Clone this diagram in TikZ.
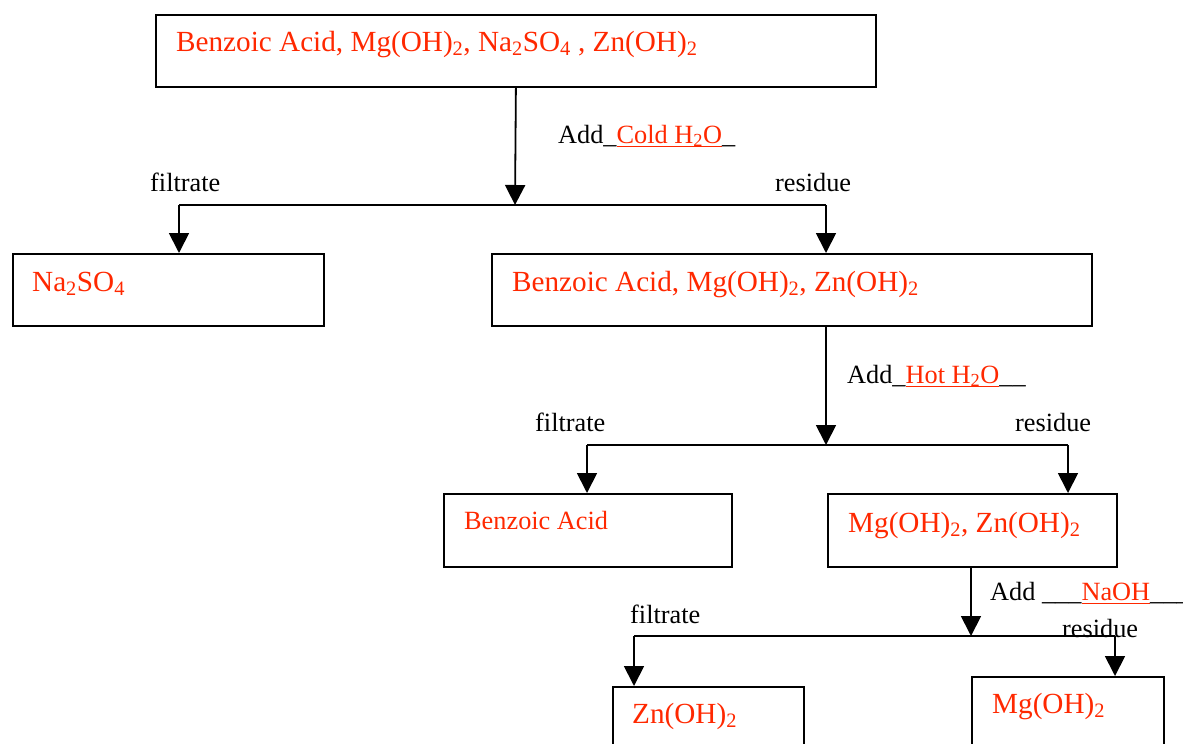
\documentclass[tikz,border=0pt]{standalone}
\usepackage{fontspec}
\setmainfont{Liberation Serif}
\usetikzlibrary{arrows.meta}
\definecolor{chem}{RGB}{255,40,0}
\newcommand\fs{\fontsize{26.3}{30}\selectfont}
\newcommand\fb{\fontsize{29.2}{33}\selectfont}
\newcommand\sub[1]{\textsubscript{#1}}
\newsavebox\ulbox
\newcommand\ulc[1]{\sbox\ulbox{#1}\rlap{\rule[-4.2pt]{\wd\ulbox}{1.3pt}}\usebox\ulbox}
\begin{document}
\begin{tikzpicture}[x=1pt,y=-1pt,
  box/.style={draw,line width=1.8pt,anchor=north west,inner sep=0pt},
  lbl/.style={anchor=base west,inner sep=0pt,font=\fs},
  chemtxt/.style={lbl,text=chem,font=\fb},
  chemsmall/.style={lbl,text=chem},
  flow/.style={line width=1.8pt,-{Triangle[width=20pt,length=20pt]}},
  bar/.style={line width=1.8pt}]
\useasboundingbox (0,0) rectangle (1183,744);
\clip (0,0) rectangle (1183,744);

% boxes
\node[box,minimum width=720pt,minimum height=72pt] (b1) at (155,14) {};
\node[box,minimum width=311pt,minimum height=72pt] (na) at (12,253) {};
\node[box,minimum width=600pt,minimum height=72pt] (b2) at (491,253) {};
\node[box,minimum width=288pt,minimum height=73pt] (ba) at (443,493) {};
\node[box,minimum width=289pt,minimum height=73pt] (b4) at (827,493) {};
\node[box,minimum width=191pt,minimum height=90pt] (zn) at (612,686) {};
\node[box,minimum width=192pt,minimum height=100pt] (mg) at (971,676) {};

% box texts
\node[chemtxt] (t1) at (176,51) {Benzoic Acid, Mg(OH)\sub{2}, Na\sub{2}SO\sub{4} , Zn(OH)\sub{2}};
\node[chemtxt] (tna) at (32,291) {Na\sub{2}SO\sub{4}};
\node[chemtxt] (t2) at (512,291) {Benzoic Acid, Mg(OH)\sub{2}, Zn(OH)\sub{2}};
\node[chemsmall] (tba) at (464,529) {Benzoic Acid};
\node[chemtxt] (t4) at (848,532) {Mg(OH)\sub{2}, Zn(OH)\sub{2}};
\node[chemtxt] (tzn) at (632,723) {Zn(OH)\sub{2}};
\node[chemtxt] (tmg) at (992,713) {Mg(OH)\sub{2}};

% step 1
\coordinate (j1) at (515,205);
\coordinate (l1) at (179,205);
\coordinate (r1) at (826,205);
\draw[flow] (b1.south) -- (j1);
\draw[bar] (l1) -- (r1);
\draw[flow] (l1) -- (l1 |- na.north);
\draw[flow] (r1) -- (r1 |- b2.north);
\node[lbl] (a1) at (558,143) {Add\_\textcolor{chem}{\ulc{Cold H\sub{2}O}}\_};
\node[lbl] (f1) at (150,191) {filtrate};
\node[lbl] (s1) at (775,191) {residue};

% step 2
\coordinate (j2) at (826,445);
\coordinate (l2) at (587,445);
\coordinate (r2) at (1068,445);
\draw[flow] (j2 |- b2.south) -- (j2);
\draw[bar] (l2) -- (r2);
\draw[flow] (l2) -- (l2 |- ba.north);
\draw[flow] (r2) -- (r2 |- b4.north);
\node[lbl] (a2) at (847,383) {Add\_\textcolor{chem}{\ulc{Hot H\sub{2}O}}\_\_};
\node[lbl] (f2) at (535,431) {filtrate};
\node[lbl] (s2) at (1015,431) {residue};

% step 3
\coordinate (j3) at (971,636);
\coordinate (l3) at (634,636);
\coordinate (r3) at (1115,636);
\draw[flow] (j3 |- b4.south) -- (j3);
\draw[bar] (l3) -- (r3);
\draw[flow] (l3) -- (l3 |- zn.north);
\draw[flow] (r3) -- (r3 |- mg.north);
\node[lbl] (a3) at (990,600) {Add \_\_\_\textcolor{chem}{\ulc{NaOH}}\_\_\_};
\node[lbl] (f3) at (630,623) {filtrate};
\node[lbl] (s3) at (1062,637) {residue};
\end{tikzpicture}
\end{document}
